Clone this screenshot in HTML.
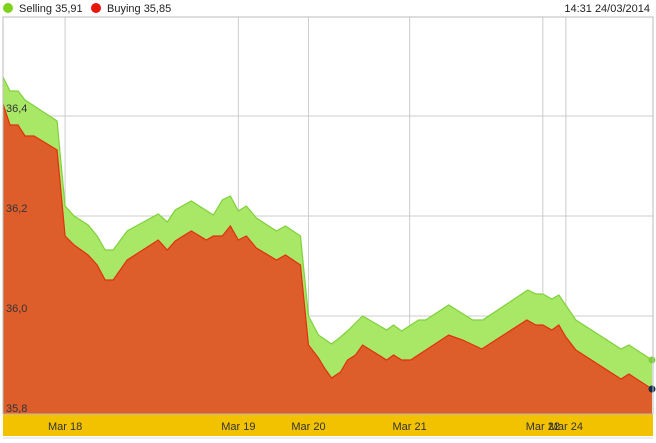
<!DOCTYPE html>
<html><head><meta charset="utf-8"><style>
body{margin:0;background:#fff;width:656px;height:443px;overflow:hidden;font-family:"Liberation Sans",sans-serif}
svg{display:block}
</style></head><body>
<svg id="c" width="656" height="443">
<rect x="0" y="0" width="656" height="443" fill="#fff"/>
<g>
<circle cx="8" cy="8" r="5" fill="#7fd11b"/>
<text x="19" y="12" font-size="11" fill="#222">Selling 35,91</text>
<circle cx="96" cy="8" r="5" fill="#e8150c"/>
<text x="107" y="12" font-size="11" fill="#222">Buying 35,85</text>
<text x="650" y="12" font-size="11" fill="#222" text-anchor="end">14:31 24/03/2014</text>
</g>
<g id="grid"></g>
<g id="areas"></g>
<rect x="3" y="414" width="650" height="22" fill="#f2c200"/>
<line x1="3" y1="438" x2="653" y2="438" stroke="#ddd"/>
<g id="xlab"></g>
<g id="ylab"></g>
<rect x="3" y="17" width="650" height="397" fill="none" stroke="#bbb"/>
</svg>
<script>
const sellT=[0,7,15,22,54,62,71,85,94,102,110,124,155,164,172,188,210,219,227,235,243,253,273,282,297,305,315,328,337,345,359,383,390,398,415,422,445,469,479,524,532,539,548,555,572,617,625,648];
const sellV=[36.478,36.45,36.45,36.432,36.39,36.22,36.2,36.182,36.16,36.132,36.132,36.17,36.204,36.188,36.212,36.23,36.202,36.232,36.24,36.21,36.22,36.196,36.17,36.18,36.16,36.0,35.962,35.944,35.958,35.972,36.0,35.972,35.982,35.97,35.992,35.992,36.022,35.992,35.992,36.052,36.044,36.044,36.034,36.042,35.992,35.934,35.942,35.912];
const buyT=[0,7,15,22,31,54,62,71,85,94,102,110,124,155,164,172,188,203,210,219,227,235,243,253,273,282,297,305,315,321,328,337,344,352,359,383,390,398,407,445,459,478,523,532,539,548,555,562,572,617,625,648];
const buyV=[36.424,36.382,36.382,36.36,36.36,36.332,36.16,36.142,36.122,36.102,36.072,36.072,36.112,36.152,36.132,36.15,36.17,36.152,36.16,36.16,36.18,36.152,36.16,36.136,36.112,36.122,36.102,35.942,35.916,35.896,35.876,35.888,35.912,35.922,35.942,35.912,35.922,35.912,35.912,35.962,35.952,35.934,35.992,35.982,35.982,35.972,35.982,35.958,35.932,35.874,35.884,35.854];
const yTicks=[36.4,36.2,36.0,35.8];
const yTickLabels=["36,4","36,2","36,0","35,8"];
const xTicks=[62,235,305,406,539,562];
const xTickLabels=["Mar 18","Mar 19","Mar 20","Mar 21","Mar 22","Mar 24"];
const NS="http://www.w3.org/2000/svg";
const X=t=>3+t*(649/648);
const Y=v=>116+(36.4-v)*500;
const BOT=414;
function mk(tag,attrs,parent){const e=document.createElementNS(NS,tag);for(const k in attrs)e.setAttribute(k,attrs[k]);document.getElementById(parent).appendChild(e);return e;}
yTicks.forEach((v,i)=>{
 if(v>35.85){const l=mk('line',{x1:3,x2:653,y1:Y(v),y2:Y(v),stroke:'#ccc'},'grid');
 
 }
});
xTicks.forEach((t,i)=>{
 const l=mk('line',{x1:X(t),x2:X(t),y1:17,y2:BOT,stroke:'#ccc'},'grid');
 
 
 const tx=mk('text',{x:X(t),y:430,'font-size':11,fill:'#333','text-anchor':'middle'},'xlab');
 tx.textContent=xTickLabels[i];
 
 
});
function area(T,V,fill,stroke,name){
 let d='M'+X(T[0])+','+BOT;
 T.forEach((t,i)=>d+=' L'+X(t)+','+Y(V[i]));
 d+=' L'+X(T[T.length-1])+','+BOT+' Z';
 const p=mk('path',{d:d,fill:fill},'areas');
 
 
 let ld='';T.forEach((t,i)=>ld+=(i?' L':'M')+X(t)+','+Y(V[i]));
 const l=mk('path',{d:ld,fill:'none',stroke:stroke,'stroke-width':1.2},'areas');
 
 
}
area(sellT,sellV,'#a8e866','#7fd13b','selling');
area(buyT,buyV,'#dd5e2b','#e0300f','buying');
const d1=mk('circle',{cx:X(sellT[sellT.length-1]),cy:Y(sellV[sellV.length-1]),r:3.5,fill:'#7fd13b'},'areas');


const d2=mk('circle',{cx:X(buyT[buyT.length-1]),cy:Y(buyV[buyV.length-1]),r:3.5,fill:'#13294b'},'areas');


yTicks.forEach((v,i)=>{
 const tx=mk('text',{x:6,y:Y(v)-4,'font-size':11,fill:'#333'},'ylab');
 tx.textContent=yTickLabels[i];
 
 
});
</script>
</body></html>
